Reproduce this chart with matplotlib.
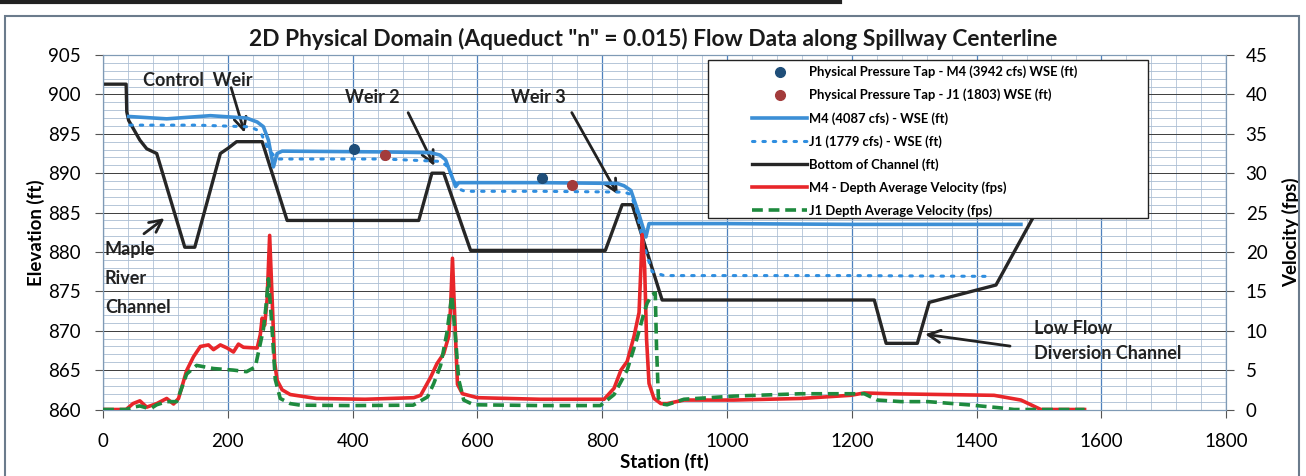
import matplotlib
matplotlib.use("Agg")
import matplotlib.pyplot as plt
from matplotlib.ticker import MultipleLocator

plt.rcParams['font.family'] = ['Lato', 'DejaVu Sans']

# channel bottom (station ft, elevation ft)
bed_sta = [0, 37, 38, 41, 59, 70, 86, 131, 147, 188, 201, 214, 255, 295, 506, 527, 546, 589,
           805, 832, 848, 896, 1236, 1255, 1305, 1324, 1431, 1490, 1530]
bed_elev = [901.3, 901.3, 897.8, 896.7, 894.2, 893.1, 892.5, 880.6, 880.6, 892.5, 893.2, 894.0, 894.0,
            884.0, 884.0, 890.0, 890.0, 880.2, 880.2, 886.0, 886.0, 873.9, 873.9, 868.4, 868.4,
            873.6, 875.8, 884.3, 892.0]

# M4 (4087 cfs) water surface
m4_sta = [41, 102, 172, 230, 247, 257, 265, 271, 273, 279, 287, 450, 525, 540, 549, 558, 565, 570,
          700, 824, 835, 846, 858, 870, 875, 1000, 1200, 1471]
m4_wse = [897.2, 896.9, 897.3, 897.0, 896.5, 895.9, 894.2, 891.7, 890.8, 892.5, 892.8, 892.7, 892.6,
          892.3, 891.7, 889.8, 888.3, 888.8, 888.8, 888.7, 888.4, 887.8, 885.0, 881.9, 883.6, 883.6,
          883.5, 883.5]

# J1 (1779 cfs) water surface
j1_sta = [43, 150, 230, 241, 252, 265, 279, 290, 450, 540, 550, 560, 570, 580, 700, 835, 846, 856,
          866, 880, 899, 1000, 1200, 1423]
j1_wse = [896.1, 896.1, 895.9, 895.7, 895.3, 893.0, 891.8, 891.8, 891.8, 891.5, 891.0, 889.5, 888.0,
          887.7, 887.7, 887.6, 887.3, 885.0, 881.0, 877.5, 877.0, 877.0, 877.0, 876.9]

# physical pressure taps
tap_m4_sta = [402, 704]
tap_m4_elev = [893.1, 889.4]
tap_j1_sta = [452, 752]
tap_j1_elev = [892.3, 888.5]

# depth average velocity (fps)
m4v_sta = [0, 37, 48, 59, 70, 86, 102, 113, 121, 134, 145, 156, 169, 177, 188, 199, 209, 217, 225,
           247, 252, 255, 259, 263, 267, 271, 275, 279, 287, 300, 342, 420, 498, 509, 525, 535, 546,
           554, 557, 560, 563, 566, 568, 576, 600, 700, 803, 819, 830, 840, 851, 859, 862, 864, 868,
           871, 875, 883, 894, 904, 931, 1011, 1118, 1198, 1220, 1262, 1428, 1471, 1503, 1573]
m4v = [0, 0, 0.75, 1.1, 0.3, 0.75, 1.4, 0.7, 1.4, 4.95, 6.7, 8.0, 8.2, 7.6, 8.2, 7.8, 7.3, 8.3, 7.9,
       7.8, 9.5, 11.6, 10.7, 14.0, 22.1, 14.0, 6.0, 3.7, 2.5, 1.9, 1.4, 1.3, 1.5, 1.8, 4.1, 5.8, 7.1,
       9.3, 13.0, 19.2, 13.0, 7.0, 3.2, 2.0, 1.5, 1.3, 1.3, 2.7, 5.0, 6.1, 9.3, 12.3, 18.0, 22.2, 18.0,
       9.0, 3.3, 1.4, 0.75, 0.75, 1.2, 1.2, 1.4, 1.8, 2.1, 2.0, 1.8, 1.2, 0, 0]

j1v_sta = [0, 37, 48, 59, 70, 78, 86, 102, 118, 125, 134, 150, 177, 209, 230, 244, 257, 261, 265,
           270, 276, 284, 300, 316, 400, 497, 520, 530, 541, 551, 559, 565, 570, 578, 594, 700, 797,
           819, 840, 856, 866, 872, 880, 885, 887, 890, 896, 904, 931, 1011, 1118, 1220, 1241, 1279,
           1322, 1386, 1439, 1460, 1573]
j1v = [0, 0, 0.3, 0.45, 0.2, 0.2, 0.6, 1.0, 1.0, 2.5, 4.5, 5.6, 5.2, 5.0, 4.8, 5.4, 10.2, 13.0, 16.6,
       11.3, 3.8, 1.4, 0.75, 0.55, 0.5, 0.55, 1.6, 3.3, 5.6, 9.7, 14.5, 9.0, 3.8, 1.2, 0.6, 0.5, 0.5,
       1.9, 5.0, 9.1, 12.0, 13.5, 14.6, 14.8, 8.0, 1.5, 0.7, 0.6, 1.3, 1.7, 2.0, 2.0, 1.2, 1.0, 1.0,
       0.6, 0.2, 0, 0]

fig = plt.figure(figsize=(13.06, 4.76), dpi=100)
fig.patch.set_facecolor("white")
ax = fig.add_axes([0.0789, 0.1397, 0.860, 0.7447])
ax2 = ax.twinx()

ax.set_xlim(0, 1800); ax.set_ylim(860, 905)
ax2.set_ylim(0, 45)
ax.xaxis.set_major_locator(MultipleLocator(200)); ax.xaxis.set_minor_locator(MultipleLocator(40))
ax.yaxis.set_major_locator(MultipleLocator(5)); ax.yaxis.set_minor_locator(MultipleLocator(1))
ax2.yaxis.set_major_locator(MultipleLocator(5))

ax.set_axisbelow(True)
ax.xaxis.grid(True, which="major", color="#4f81bd", lw=0.9)
ax.xaxis.grid(True, which="minor", color="#bccbdc", lw=0.7)
ax.yaxis.grid(True, which="major", color="#3c3c3c", lw=0.7)
ax.yaxis.grid(True, which="minor", color="#a9bdd2", lw=0.6)

for a in (ax, ax2):
    for s in a.spines.values():
        s.set_color("#7f9ab5"); s.set_linewidth(0.8)
ax.tick_params(which="minor", length=0)
ax.tick_params(axis="x", which="major", length=6, pad=11, color="#555", labelsize=13.5)
ax.tick_params(axis="y", which="major", length=6, pad=10, color="#555", labelsize=13.5)
ax2.tick_params(axis="y", which="major", length=6, pad=8, color="#555", labelsize=13.5)

# elevation series
ax.plot(bed_sta, bed_elev, color="#262626", lw=2.4, zorder=3)
ax.plot(m4_sta, m4_wse, color="#3c8fd6", lw=2.6, zorder=4)
ax.plot(j1_sta, j1_wse, color="#2f8ee0", lw=2.2, ls=(0, (0.8, 2.6)), dash_capstyle="round", zorder=5)
ax.plot(tap_m4_sta, tap_m4_elev, "o", color="#1f4e79", ms=7, zorder=6)
ax.plot(tap_j1_sta, tap_j1_elev, "o", color="#a33b3b", ms=7, zorder=6)

# velocity series
ax2.plot(m4v_sta, m4v, color="#e8262a", lw=2.6, zorder=3)
ax2.plot(j1v_sta, j1v, color="#1e8a3e", lw=2.6, ls=(0, (3, 1.6)), zorder=4)

ax.set_ylabel("Elevation (ft)", fontsize=13.5, weight="bold")
ax.yaxis.set_label_coords(-0.052, 0.5)
ax2.set_ylabel("Velocity (fps)", fontsize=13.5, weight="bold")
ax2.yaxis.set_label_coords(1.05, 0.5)
ax.set_xlabel("Station (ft)", fontsize=13.5, weight="bold", labelpad=2)
fig.text(0.5, 0.918, '2D Physical Domain (Aqueduct "n" = 0.015) Flow Data along Spillway Centerline',
         ha="center", va="center", fontsize=16.4, weight="bold", color="#1a1a1a")

# annotations
arw = dict(arrowstyle="->", color="#222", lw=2, mutation_scale=22)
ann = dict(fontsize=13, weight="bold", color="#222")
ax.annotate("", xy=(228, 894.8), xytext=(204, 901.2), arrowprops=arw)
ax.text(152, 901.8, "Control  Weir", ha="center", va="center", **ann)
ax.annotate("", xy=(533, 890.6), xytext=(487, 898), arrowprops=arw)
ax.text(431, 899.6, "Weir 2", ha="center", va="center", **ann)
ax.annotate("", xy=(827, 887.0), xytext=(749, 898), arrowprops=arw)
ax.text(697, 899.6, "Weir 3", ha="center", va="center", **ann)
ax.annotate("", xy=(102, 884.5), xytext=(62, 882.1), arrowprops=arw)
ax.text(3, 876.6, "Maple\nRiver\nChannel", ha="left", va="center", linespacing=1.85, **ann)
ax.annotate("", xy=(1313, 869.6), xytext=(1458, 868.0), arrowprops=arw)
ax.text(1492, 868.7, "Low Flow\nDiversion Channel", ha="left", va="center", linespacing=1.6, **ann)

# legend: white box drawn by hand (wide left margin), frameless legend on top
ax2.add_patch(plt.Rectangle((0.5387, 0.540), 0.3918, 0.446, transform=ax2.transAxes, clip_on=False,
                            fc="white", ec="#222", lw=1.0, zorder=9))
labels = ["Physical Pressure Tap - M4 (3942 cfs) WSE (ft)", "Physical Pressure Tap - J1 (1803) WSE (ft)",
          "M4 (4087 cfs) - WSE (ft)", "J1 (1779 cfs) - WSE (ft)", "Bottom of Channel (ft)",
          "M4 - Depth Average Velocity (fps)", "J1 Depth Average Velocity (fps)"]
handles = ax.get_lines()
order = [3, 4, 1, 2, 0]
hs = [handles[i] for i in order] + ax2.get_lines()
leg = ax2.legend(hs, labels, loc="upper left", bbox_to_anchor=(0.5779, 0.970),
                 prop=dict(weight="bold", size=9.4), frameon=False, handlelength=4.2,
                 handletextpad=0.15, labelspacing=0.8, borderpad=0, numpoints=1, borderaxespad=0)
leg.set_zorder(10)

# page frame from the scanned report
fig.add_artist(plt.Rectangle((0.004, -0.01), 0.991, 0.976, transform=fig.transFigure,
                             fill=False, ec="#6b7b8c", lw=1.5))
fig.add_artist(plt.Line2D([0, 0.643], [0.996, 0.996], transform=fig.transFigure, color="#222", lw=3))

fig.savefig("out.png", dpi=100, facecolor="white")
